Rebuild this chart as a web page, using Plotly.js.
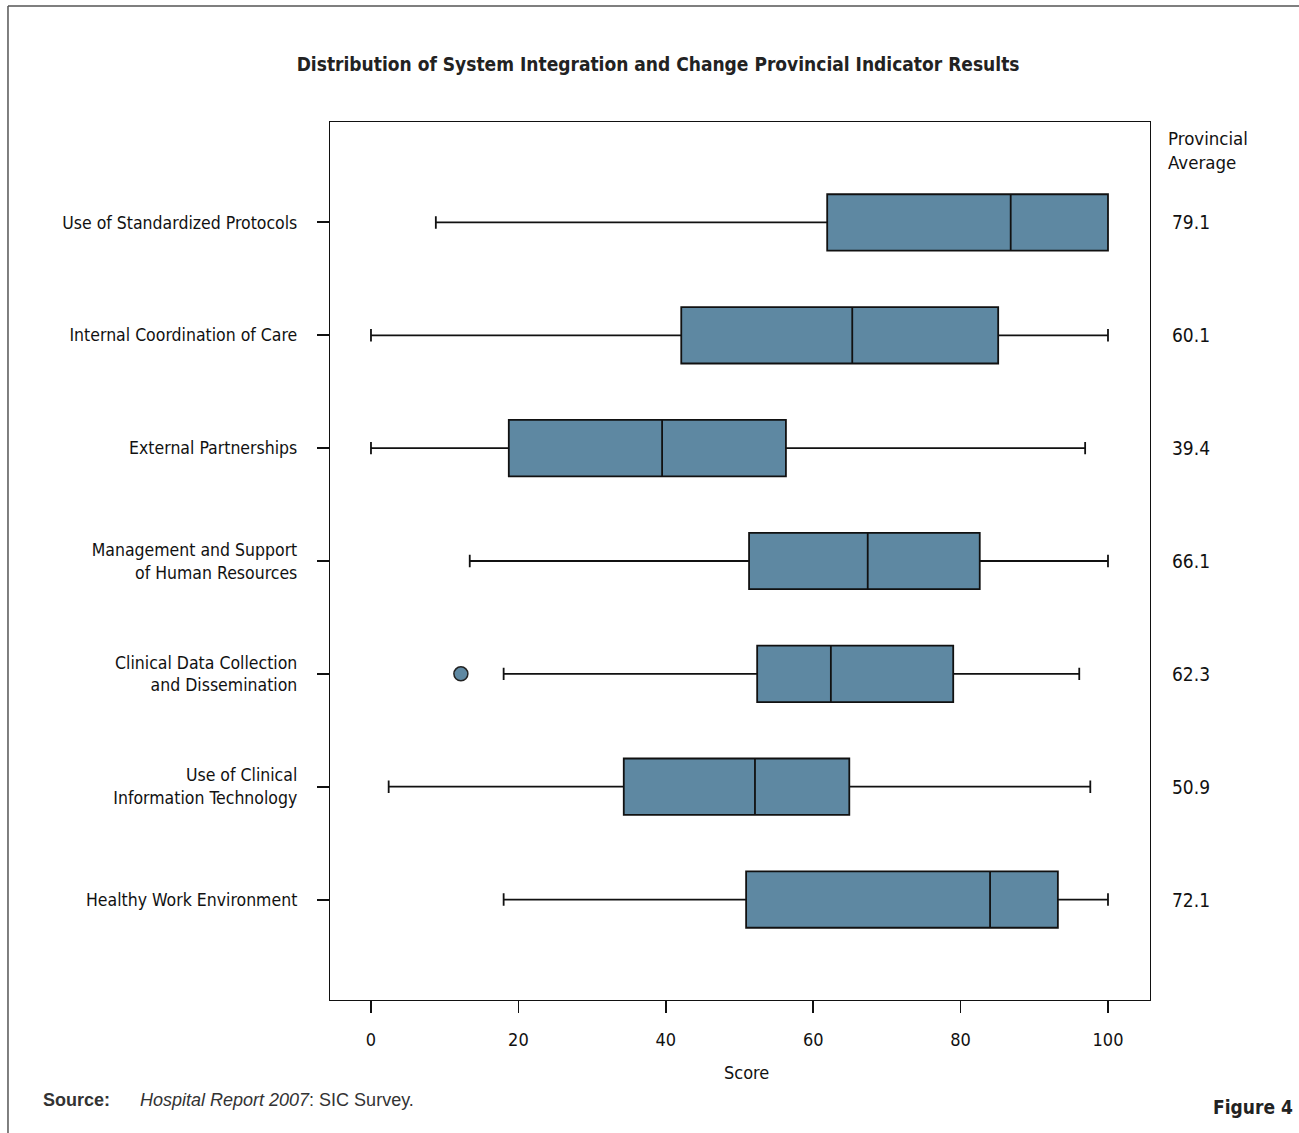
<!DOCTYPE html>
<html>
<head>
<meta charset="utf-8">
<script src="https://cdn.plot.ly/plotly-3.0.1.min.js"></script>
<style>
html,body{margin:0;padding:0;background:#fff;}
#chart{width:1299px;height:1133px;}
</style>
</head>
<body>
<div id="chart"></div>
<script>
var categories = [
  "Use of Standardized Protocols",
  "Internal Coordination of Care",
  "External Partnerships",
  "Management and Support<br>of Human Resources",
  "Clinical Data Collection<br>and Dissemination",
  "Use of Clinical<br>Information Technology",
  "Healthy Work Environment"
];
var lowerWhisker = [8.8, 0, 0, 13.4, 18.0, 2.4, 18.0];
var q1Values     = [61.9, 42.1, 18.7, 51.3, 52.4, 34.3, 50.9];
var medianValues = [86.8, 65.3, 39.5, 67.4, 62.4, 52.1, 84.0];
var q3Values     = [100, 85.1, 56.3, 82.6, 79.0, 64.9, 93.2];
var upperWhisker = [100, 100, 96.9, 100, 96.1, 97.6, 100];
var provincialAverage = ["79.1", "60.1", "39.4", "66.1", "62.3", "50.9", "72.1"];
var outlierCategory = [4];
var outlierValue = [12.2];
var xTicks = [0, 20, 40, 60, 80, 100];

var positions = categories.map(function(c, i){ return i; });
var narrow = "'Liberation Sans Narrow', 'DejaVu Sans Condensed', 'Roboto Condensed', Arial, sans-serif";
var boxColor = "#5e88a2";

var boxTrace = {
  type: "box",
  orientation: "h",
  y: positions,
  q1: q1Values,
  median: medianValues,
  q3: q3Values,
  lowerfence: lowerWhisker,
  upperfence: upperWhisker,
  width: 0.5,
  whiskerwidth: 0.22,
  fillcolor: boxColor,
  line: {color: "#111111", width: 1.8},
  showlegend: false,
  hoverinfo: "x"
};

var outlierTrace = {
  type: "scatter",
  mode: "markers",
  x: outlierValue,
  y: outlierCategory,
  marker: {size: 14, color: boxColor, line: {color: "#222222", width: 1.5}},
  showlegend: false
};

var annotations = [];
provincialAverage.forEach(function(v, i){
  annotations.push({
    xref: "paper", yref: "y", x: 1.0244, y: i,
    xanchor: "left", yanchor: "middle",
    text: v, showarrow: false,
    font: {family: narrow, size: 19, color: "#111"}
  });
});
annotations.push({
  xref: "paper", yref: "paper", x: 1.0195, y: 0.968,
  xanchor: "left", yanchor: "middle", align: "left",
  text: "Provincial<br>Average", showarrow: false,
  font: {family: narrow, size: 18.5, color: "#111"}
});
annotations.push({
  xref: "paper", yref: "paper", x: 0.5085, y: -0.0831,
  xanchor: "center", yanchor: "middle",
  text: "Score", showarrow: false,
  font: {family: narrow, size: 18, color: "#111"}
});
annotations.push({
  xref: "paper", yref: "paper", x: -0.3524, y: -0.1139,
  xanchor: "left", yanchor: "middle",
  text: "<b>Source:</b>", showarrow: false,
  font: {family: "'Liberation Sans', Arial, sans-serif", size: 18, color: "#333"}
});
annotations.push({
  xref: "paper", yref: "paper", x: -0.2341, y: -0.1139,
  xanchor: "left", yanchor: "middle",
  text: "<i>Hospital Report 2007</i>: SIC Survey.", showarrow: false,
  font: {family: "'Liberation Sans', Arial, sans-serif", size: 18, color: "#333"}
});
annotations.push({
  xref: "paper", yref: "paper", x: 1.1768, y: -0.1219,
  xanchor: "right", yanchor: "middle",
  text: "<b>Figure 4</b>", showarrow: false,
  font: {family: narrow, size: 19, color: "#222"}
});

var layout = {
  width: 1299, height: 1133,
  margin: {l: 330, r: 149, t: 122, b: 133},
  paper_bgcolor: "#fff", plot_bgcolor: "#fff",
  title: {
    text: "<b>Distribution of System Integration and Change Provincial Indicator Results</b>",
    font: {family: narrow, size: 19, color: "#222"},
    x: 0.5066, xref: "container", xanchor: "center",
    y: 1 - 64/1133, yref: "container", yanchor: "middle"
  },
  xaxis: {
    range: [-5.56, 105.7],
    tickvals: xTicks,
    ticktext: xTicks.map(String),
    ticks: "outside", ticklen: 12, tickwidth: 1.5, tickcolor: "#111",
    showgrid: false, zeroline: false,
    showline: true, linecolor: "#111", linewidth: 1.2, mirror: true,
    tickfont: {family: narrow, size: 18, color: "#111"},
    ticklabelstandoff: 11
  },
  yaxis: {
    range: [6.89, -0.89],
    tickvals: positions,
    ticktext: categories,
    ticks: "outside", ticklen: 12, tickwidth: 2, tickcolor: "#111",
    showgrid: false, zeroline: false,
    showline: true, linecolor: "#111", linewidth: 1.2, mirror: true,
    tickfont: {family: narrow, size: 17.5, color: "#111"},
    ticklabelstandoff: 16
  },
  annotations: annotations,
  shapes: [
    {type: "line", xref: "paper", yref: "paper", x0: -0.3927, x1: 1.2, y0: 1.1321, y1: 1.1321,
     line: {color: "#555", width: 1.5}},
    {type: "line", xref: "paper", yref: "paper", x0: -0.3927, x1: -0.3927, y0: 1.1321, y1: -0.16,
     line: {color: "#555", width: 1.5}}
  ]
};

Plotly.newPlot("chart", [boxTrace, outlierTrace], layout, {displayModeBar: false, staticPlot: true});
</script>
</body>
</html>
